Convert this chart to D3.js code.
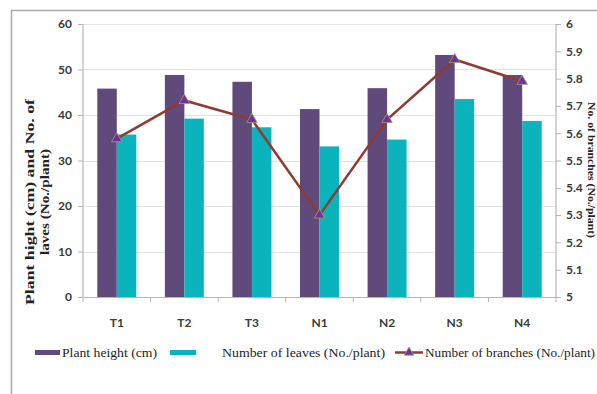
<!DOCTYPE html>
<html>
<head>
<meta charset="utf-8">
<script src="https://cdn.jsdelivr.net/npm/d3@7"></script>
<style>
  html, body { margin: 0; padding: 0; background: #fff; }
  svg { display: block; }
</style>
</head>
<body>
<svg id="chart" width="597" height="394"></svg>
<script>
// Treatments along the x axis
const categories = ["T1", "T2", "T3", "N1", "N2", "N3", "N4"];
// Bar series (left axis)
const plantHeight = [45.8, 48.8, 47.3, 41.3, 45.9, 53.2, 48.8];
const leaves = [35.7, 39.2, 37.3, 33.1, 34.6, 43.5, 38.7];
// Line series (right axis)
const branches = [5.58, 5.72, 5.65, 5.30, 5.65, 5.87, 5.79];
// Axis ticks
const leftTicks = [0, 10, 20, 30, 40, 50, 60];
const rightTicks = [5, 5.1, 5.2, 5.3, 5.4, 5.5, 5.6, 5.7, 5.8, 5.9, 6];
const seriesNames = ["Plant height (cm)", "Number of leaves (No./plant)", "Number of branches (No./plant)"];

const colors = { height: "#5f4a7b", leaves: "#0bb4bd", line: "#8e3b33", marker: "#7030a0" };

const svg = d3.select("#chart");
const plot = { left: 83, right: 556, top: 24, bottom: 297 };

const x = d3.scaleBand().domain(categories).range([plot.left, plot.right]).padding(0);
const sub = d3.scaleBand().domain(["h", "l"]).range([0, x.bandwidth()]).paddingInner(0).paddingOuter(0.733);
const yL = d3.scaleLinear().domain([0, 60]).range([plot.bottom, plot.top]);
const yR = d3.scaleLinear().domain([5, 6]).range([plot.bottom, plot.top]);

// Outer frame (left and top edges)
svg.append("path")
  .attr("d", "M11.5,394 V10.5 H597")
  .attr("fill", "none").attr("stroke", "#a9a9a9").attr("stroke-width", 1.5);

// Gridlines
svg.append("g").selectAll("line").data(leftTicks.filter(d => d > 0)).join("line")
  .attr("x1", plot.left).attr("x2", plot.right)
  .attr("y1", d => Math.round(yL(d)) + 0.5).attr("y2", d => Math.round(yL(d)) + 0.5)
  .attr("stroke", "#e3e3e3").attr("stroke-width", 1.2);

// Bars
const barGroup = svg.append("g");
barGroup.selectAll("rect.h").data(categories).join("rect").attr("class", "h")
  .attr("x", (d) => x(d) + sub("h"))
  .attr("width", sub.bandwidth())
  .attr("y", (d, i) => yL(plantHeight[i]))
  .attr("height", (d, i) => yL(0) - yL(plantHeight[i]))
  .attr("fill", colors.height);
barGroup.selectAll("rect.l").data(categories).join("rect").attr("class", "l")
  .attr("x", (d) => x(d) + sub("l"))
  .attr("width", sub.bandwidth())
  .attr("y", (d, i) => yL(leaves[i]))
  .attr("height", (d, i) => yL(0) - yL(leaves[i]))
  .attr("fill", colors.leaves);

// Axes
const axisColor = "#b5b5b5";
const tickFont = "Lato, 'Open Sans', sans-serif";

const gL = svg.append("g").attr("transform", `translate(${plot.left},0)`)
  .call(d3.axisLeft(yL).tickValues(leftTicks).tickSize(5).tickPadding(6).tickFormat(d3.format("d")));
const gR = svg.append("g").attr("transform", `translate(${plot.right},0)`)
  .call(d3.axisRight(yR).tickValues(rightTicks).tickSize(5).tickPadding(5).tickFormat(d => d === 5 || d === 6 ? d3.format("d")(d) : d3.format(".1f")(d)));
const gB = svg.append("g").attr("transform", `translate(0,${plot.bottom})`)
  .call(d3.axisBottom(x).tickSize(0).tickPadding(21));

// Category boundary ticks on the bottom axis
svg.append("g").selectAll("line").data(categories.concat(["end"])).join("line")
  .attr("x1", (d, i) => i < categories.length ? x(d) : plot.right)
  .attr("x2", (d, i) => i < categories.length ? x(d) : plot.right)
  .attr("y1", plot.bottom).attr("y2", plot.bottom + 5)
  .attr("stroke", axisColor);

[gL, gR, gB].forEach(g => {
  g.select(".domain").attr("stroke", axisColor).attr("stroke-width", 1.2);
  g.selectAll(".tick line").attr("stroke", axisColor);
  g.selectAll("text").attr("font-family", tickFont).attr("font-weight", "bold")
    .attr("font-size", 12).attr("fill", "#3a3a3a");
});
gR.select(".domain").attr("d", `M0,${plot.top}V${plot.bottom}`);
gL.select(".domain").attr("d", `M0,${plot.top}V${plot.bottom}`);

// Line series
const line = d3.line().x((d, i) => x(categories[i]) + x.bandwidth() / 2).y(d => yR(d));
svg.append("path").datum(branches)
  .attr("d", line).attr("fill", "none")
  .attr("stroke", colors.line).attr("stroke-width", 2.5);
svg.append("g").selectAll("path").data(branches).join("path")
  .attr("transform", (d, i) => `translate(${x(categories[i]) + x.bandwidth() / 2},${yR(d)})`)
  .attr("d", d3.symbol(d3.symbolTriangle, 48))
  .attr("fill", colors.marker).attr("stroke", "#a3a36a").attr("stroke-width", 0.8);

// Axis titles
const serif = "'Liberation Serif', 'Times New Roman', serif";
const lt = svg.append("text").attr("transform", "translate(34,202) rotate(-90)")
  .attr("text-anchor", "middle").attr("font-family", serif).attr("font-weight", "bold")
  .attr("font-size", 13).attr("fill", "#222");
lt.append("tspan").attr("x", 0).attr("dy", 0).attr("textLength", 206).attr("lengthAdjust", "spacingAndGlyphs")
  .text("Plant hight (cm) and No. of");
lt.append("tspan").attr("x", 0).attr("dy", 15).attr("textLength", 106).attr("lengthAdjust", "spacingAndGlyphs")
  .text("laves (No./plant)");

svg.append("text").attr("transform", "translate(588,170) rotate(90)")
  .attr("text-anchor", "middle").attr("font-family", serif).attr("font-weight", "bold")
  .attr("font-size", 11).attr("fill", "#222")
  .attr("textLength", 136).attr("lengthAdjust", "spacingAndGlyphs")
  .text("No. of branches (No./plant)");

// Legend
const lg = svg.append("g").attr("font-family", serif).attr("font-size", 13).attr("fill", "#222");
const ly = 352.5;
lg.append("rect").attr("x", 35).attr("y", ly - 2.5).attr("width", 25).attr("height", 5).attr("fill", colors.height);
lg.append("text").attr("x", 62).attr("y", ly + 4).attr("textLength", 95).attr("lengthAdjust", "spacingAndGlyphs").text(seriesNames[0]);
lg.append("rect").attr("x", 170).attr("y", ly - 2.5).attr("width", 26).attr("height", 5).attr("fill", colors.leaves);
lg.append("text").attr("x", 222).attr("y", ly + 4).attr("textLength", 163).attr("lengthAdjust", "spacingAndGlyphs").text(seriesNames[1]);
lg.append("line").attr("x1", 395).attr("x2", 423).attr("y1", ly).attr("y2", ly)
  .attr("stroke", colors.line).attr("stroke-width", 2.5);
lg.append("path").attr("transform", `translate(409,${ly})`)
  .attr("d", d3.symbol(d3.symbolTriangle, 40))
  .attr("fill", colors.marker).attr("stroke", "#a3a36a").attr("stroke-width", 0.8);
lg.append("text").attr("x", 425).attr("y", ly + 4).attr("textLength", 170).attr("lengthAdjust", "spacingAndGlyphs").text(seriesNames[2]);
</script>
</body>
</html>
